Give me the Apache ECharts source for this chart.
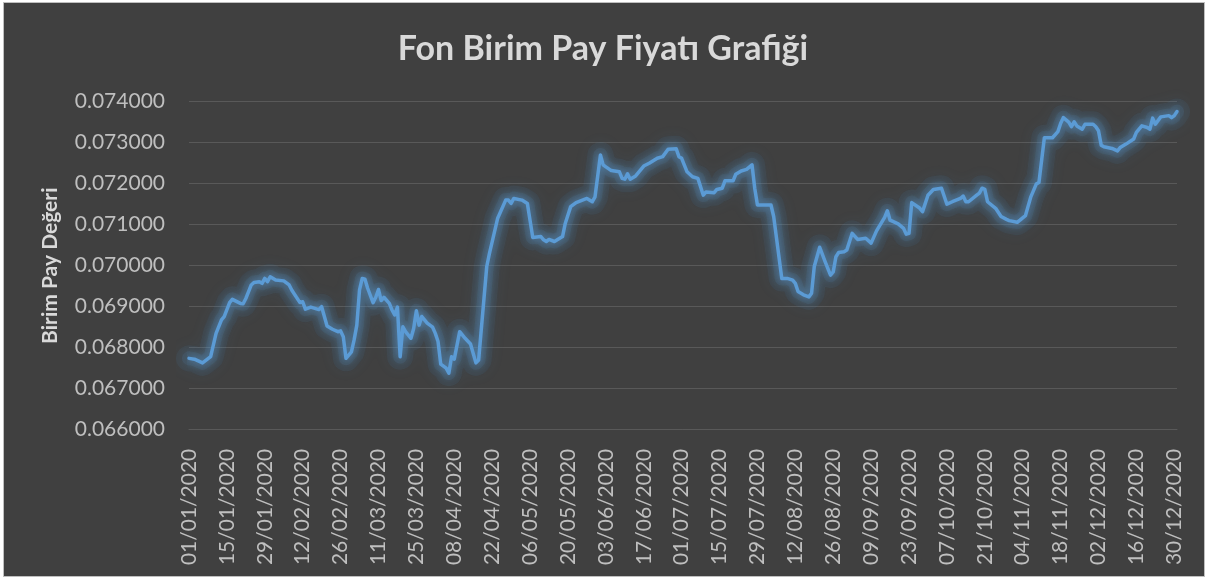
<!DOCTYPE html>
<html>
<head>
<meta charset="utf-8">
<script src="https://cdn.jsdelivr.net/npm/echarts@6/dist/echarts.min.js"></script>
<style>
  html, body { margin: 0; padding: 0; background: #ffffff; }
  #frame { position: absolute; left: 3px; top: 2px; width: 1200px; height: 573px; border: 1px solid #bfbfbf; background: #404040; }
  #chart { position: absolute; left: -4px; top: -3px; width: 1206px; height: 579px; }
</style>
</head>
<body>
<div id="frame"><div id="chart"></div></div>
<script>
const titleText = 'Fon Birim Pay Fiyatı Grafiği';
const yAxisName = 'Birim Pay Değeri';
const yTicks = [0.066, 0.067, 0.068, 0.069, 0.070, 0.071, 0.072, 0.073, 0.074];
const tickLabels = ['01/01/2020','15/01/2020','29/01/2020','12/02/2020','26/02/2020','11/03/2020','25/03/2020','08/04/2020','22/04/2020','06/05/2020','20/05/2020','03/06/2020','17/06/2020','01/07/2020','15/07/2020','29/07/2020','12/08/2020','26/08/2020','09/09/2020','23/09/2020','07/10/2020','21/10/2020','04/11/2020','18/11/2020','02/12/2020','16/12/2020','30/12/2020'];

const dates = ['01/01/2020','03/01/2020','06/01/2020','09/01/2020','11/01/2020','13/01/2020','14/01/2020','16/01/2020','17/01/2020','20/01/2020','21/01/2020','22/01/2020','24/01/2020','25/01/2020','27/01/2020','28/01/2020','29/01/2020','30/01/2020','31/01/2020',
'02/02/2020','05/02/2020','07/02/2020','08/02/2020','11/02/2020','12/02/2020','13/02/2020','15/02/2020','18/02/2020','19/02/2020','21/02/2020','23/02/2020','25/02/2020','26/02/2020','27/02/2020','28/02/2020',
'01/03/2020','02/03/2020','03/03/2020','04/03/2020','05/03/2020','06/03/2020','07/03/2020','09/03/2020','10/03/2020','11/03/2020','12/03/2020','13/03/2020','15/03/2020','16/03/2020','17/03/2020','18/03/2020','19/03/2020','20/03/2020','21/03/2020','23/03/2020','24/03/2020','25/03/2020','26/03/2020','27/03/2020','29/03/2020','31/03/2020',
'01/04/2020','02/04/2020','03/04/2020','05/04/2020','06/04/2020','07/04/2020','08/04/2020','10/04/2020','12/04/2020','14/04/2020','16/04/2020','17/04/2020','20/04/2020','21/04/2020','24/04/2020','27/04/2020','28/04/2020','29/04/2020','30/04/2020',
'03/05/2020','05/05/2020','06/05/2020','07/05/2020','10/05/2020','11/05/2020','12/05/2020','13/05/2020','15/05/2020','18/05/2020','19/05/2020','21/05/2020','23/05/2020','27/05/2020','29/05/2020','30/05/2020',
'01/06/2020','02/06/2020','03/06/2020','05/06/2020','08/06/2020','09/06/2020','10/06/2020','11/06/2020','12/06/2020','14/06/2020','17/06/2020','19/06/2020','22/06/2020','24/06/2020','26/06/2020','29/06/2020','30/06/2020',
'01/07/2020','03/07/2020','05/07/2020','07/07/2020','09/07/2020','10/07/2020','13/07/2020','14/07/2020','16/07/2020','17/07/2020','20/07/2020','21/07/2020','23/07/2020','25/07/2020','27/07/2020','28/07/2020','29/07/2020',
'03/08/2020','04/08/2020','07/08/2020','09/08/2020','11/08/2020','12/08/2020','13/08/2020','15/08/2020','17/08/2020','18/08/2020','19/08/2020','21/08/2020','23/08/2020','25/08/2020','26/08/2020','27/08/2020','28/08/2020','30/08/2020','31/08/2020',
'02/09/2020','04/09/2020','07/09/2020','09/09/2020','11/09/2020','13/09/2020','14/09/2020','15/09/2020','16/09/2020','19/09/2020','21/09/2020','22/09/2020','23/09/2020','24/09/2020','27/09/2020','28/09/2020','30/09/2020',
'02/10/2020','05/10/2020','07/10/2020','09/10/2020','12/10/2020','13/10/2020','14/10/2020','15/10/2020','18/10/2020','19/10/2020','20/10/2020','21/10/2020','22/10/2020','25/10/2020','27/10/2020','29/10/2020','30/10/2020',
'02/11/2020','03/11/2020','05/11/2020','07/11/2020','09/11/2020','10/11/2020','11/11/2020','12/11/2020','15/11/2020','17/11/2020','18/11/2020','19/11/2020','21/11/2020','22/11/2020','23/11/2020','24/11/2020','26/11/2020','27/11/2020','30/11/2020',
'01/12/2020','02/12/2020','03/12/2020','04/12/2020','07/12/2020','09/12/2020','10/12/2020','12/12/2020','15/12/2020','16/12/2020','18/12/2020','20/12/2020','21/12/2020','22/12/2020','23/12/2020','25/12/2020','28/12/2020','29/12/2020','30/12/2020','31/12/2020'];

const values = [0.06774,0.06772,0.06763,0.06778,0.06835,0.06868,0.06876,0.06910,0.06918,0.06908,0.06907,0.06920,0.06953,0.06959,0.06961,0.06957,0.06969,0.06961,0.06973,
0.06965,0.06963,0.06953,0.06940,0.06910,0.06912,0.06894,0.06899,0.06893,0.06900,0.06853,0.06845,0.06839,0.06841,0.06827,0.06774,
0.06790,0.06819,0.06855,0.06941,0.06969,0.06967,0.06945,0.06910,0.06923,0.06942,0.06915,0.06923,0.06908,0.06892,0.06880,0.06899,0.06778,0.06851,0.06839,0.06823,0.06847,0.06890,0.06855,0.06876,0.06860,0.06850,
0.06835,0.06815,0.06760,0.06750,0.06738,0.06778,0.06772,0.06839,0.06823,0.06809,0.06763,0.06770,0.06998,0.07030,0.07115,0.07160,0.07160,0.07152,0.07164,
0.07160,0.07152,0.07110,0.07069,0.07071,0.07063,0.07059,0.07064,0.07059,0.07071,0.07103,0.07144,0.07154,0.07164,0.07156,0.07168,
0.07270,0.07246,0.07241,0.07232,0.07229,0.07213,0.07211,0.07224,0.07211,0.07219,0.07243,0.07250,0.07262,0.07266,0.07284,0.07285,0.07266,
0.07262,0.07229,0.07217,0.07213,0.07172,0.07180,0.07178,0.07186,0.07189,0.07207,0.07207,0.07223,0.07231,0.07235,0.07246,0.07189,0.07148,
0.07148,0.07120,0.06969,0.06969,0.06965,0.06957,0.06937,0.06929,0.06924,0.06933,0.06998,0.07045,0.07010,0.06977,0.06985,0.07022,0.07032,0.07034,0.07038,
0.07079,0.07064,0.07067,0.07055,0.07085,0.07107,0.07118,0.07134,0.07111,0.07102,0.07091,0.07077,0.07079,0.07154,0.07140,0.07132,0.07172,
0.07186,0.07189,0.07150,0.07156,0.07164,0.07170,0.07156,0.07156,0.07172,0.07177,0.07189,0.07186,0.07156,0.07140,0.07120,0.07113,0.07110,
0.07106,0.07111,0.07122,0.07168,0.07199,0.07203,0.07258,0.07312,0.07312,0.07327,0.07347,0.07361,0.07350,0.07339,0.07351,0.07341,0.07333,0.07345,0.07345,
0.07339,0.07329,0.07294,0.07290,0.07286,0.07280,0.07288,0.07296,0.07309,0.07325,0.07341,0.07337,0.07333,0.07360,0.07345,0.07363,0.07366,0.07361,0.07366,0.07376];

// every calendar day of 2020 forms the date axis
const allDays = [];
for (let t = Date.UTC(2020, 0, 1); t <= Date.UTC(2020, 11, 31); t += 86400000) {
  const d = new Date(t);
  const dd = String(d.getUTCDate()).padStart(2, '0');
  const mm = String(d.getUTCMonth() + 1).padStart(2, '0');
  allDays.push(dd + '/' + mm + '/' + d.getUTCFullYear());
}
const tickSet = new Set(tickLabels);
const seriesData = dates.map((d, i) => [d, values[i]]);

function glowLayer(width, alpha, blur, z) {
  return {
    type: 'line', silent: true, z: z, data: seriesData,
    showSymbol: false, symbol: 'none', tooltip: { show: false },
    lineStyle: {
      color: 'rgba(91,155,213,' + alpha + ')', width: width,
      shadowColor: 'rgba(91,155,213,1)', shadowBlur: blur,
      cap: 'round', join: 'round'
    }
  };
}

const chart = echarts.init(document.getElementById('chart'), null, { renderer: 'canvas' });
const font = 'Lato, "Open Sans", sans-serif';
chart.setOption({
  backgroundColor: 'transparent',
  animation: false,
  title: {
    text: titleText,
    left: 'center',
    top: 27,
    textStyle: { color: '#d9d9d9', fontSize: 34, fontWeight: 'bold', fontFamily: font }
  },
  grid: { left: 189, right: 29, top: 101.7, bottom: 149.3, containLabel: false },
  xAxis: {
    type: 'category',
    data: allDays,
    boundaryGap: false,
    axisLine: { show: true, lineStyle: { color: '#595959', width: 1 } },
    axisTick: { show: false },
    splitLine: { show: false },
    axisLabel: {
      interval: (idx, val) => tickSet.has(val),
      rotate: 90,
      margin: 19,
      color: '#bfbfbf',
      fontSize: 21,
      fontFamily: font
    }
  },
  yAxis: {
    type: 'value',
    min: yTicks[0],
    max: yTicks[yTicks.length - 1],
    interval: 0.001,
    name: yAxisName,
    nameLocation: 'middle',
    nameGap: 128,
    nameRotate: 90,
    nameTextStyle: { color: '#d9d9d9', fontSize: 21, fontWeight: 'bold', fontFamily: font },
    axisLine: { show: false },
    axisTick: { show: false },
    splitLine: { show: true, lineStyle: { color: '#595959', width: 1 } },
    axisLabel: {
      margin: 24,
      color: '#bfbfbf',
      fontSize: 21,
      fontFamily: font,
      formatter: v => v.toFixed(6)
    }
  },
  series: [
    glowLayer(26, 0.07, 14, 1),
    glowLayer(14, 0.09, 10, 2),
    {
      type: 'line',
      z: 3,
      data: seriesData,
      showSymbol: false,
      symbol: 'none',
      lineStyle: {
        color: '#5b9bd5',
        width: 3.5,
        shadowColor: 'rgba(91,155,213,0.8)',
        shadowBlur: 8,
        cap: 'round',
        join: 'round'
      }
    }
  ]
});
</script>
</body>
</html>
